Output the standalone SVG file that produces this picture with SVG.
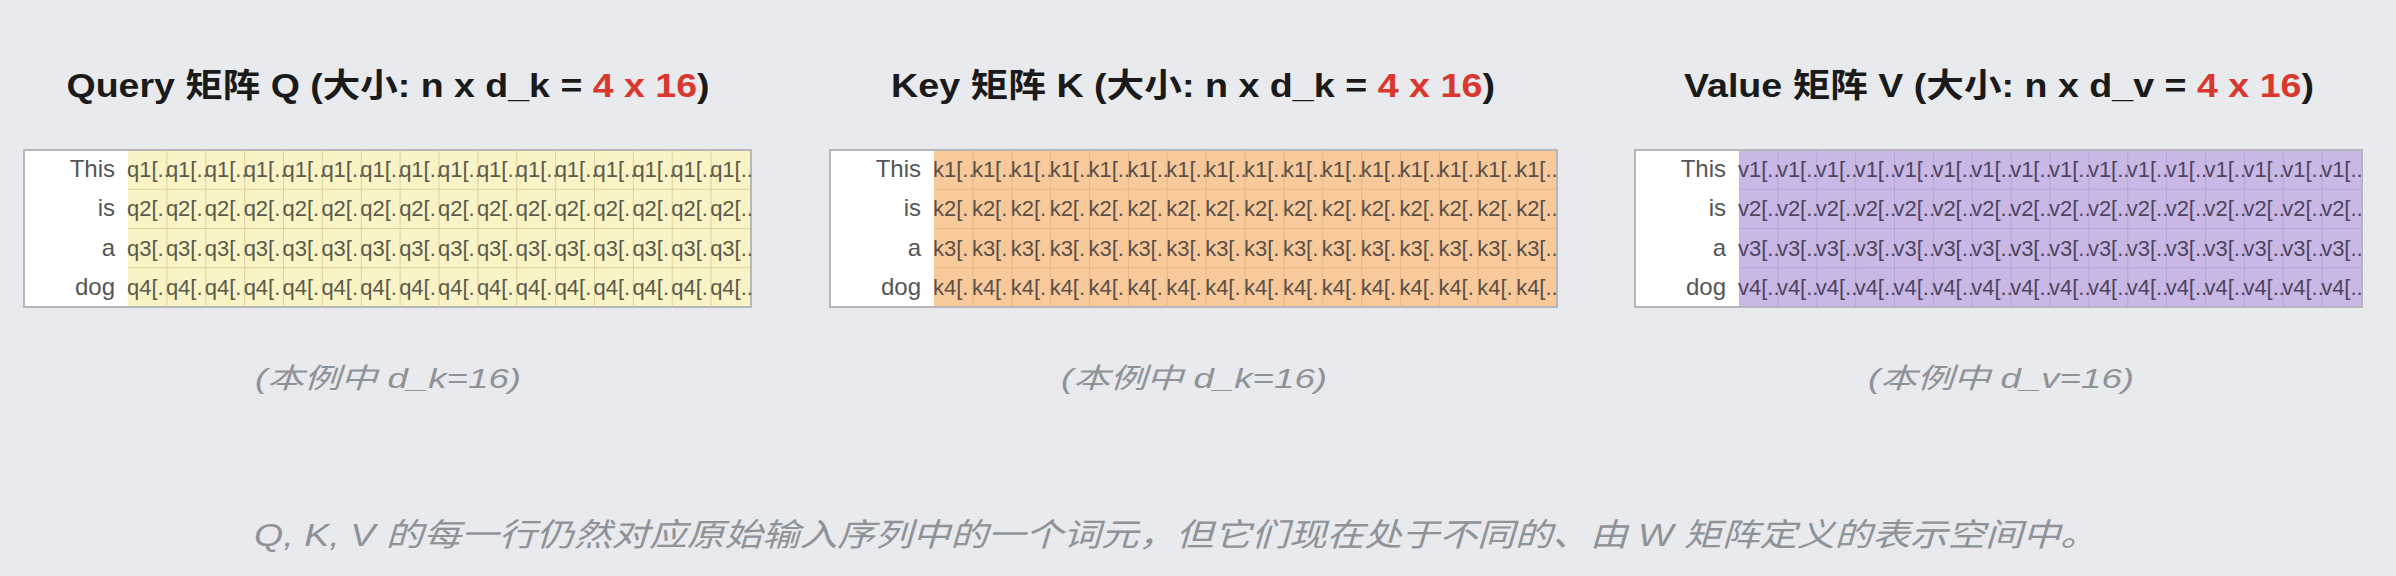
<svg xmlns="http://www.w3.org/2000/svg" width="2396" height="576" viewBox="0 0 2396 576">
<style>
.bg{fill:#e8eaed}
.title{font-family:"Liberation Sans","Noto Sans CJK SC",sans-serif;font-weight:bold;font-size:33px;fill:#1a1a1a}
.red{fill:#d9382f}
.sub{font-family:"Liberation Sans","Noto Sans CJK SC",sans-serif;font-style:italic;font-size:28px;fill:#8f9297}
.note{font-family:"Liberation Sans","Noto Sans CJK SC",sans-serif;font-style:italic;font-size:32px;fill:#8f9297}
.frame{fill:#ffffff;stroke:#b5b7ba;stroke-width:2}
.lbl{font-family:"Liberation Sans",sans-serif;font-size:24px;fill:#555555;text-anchor:end}
.cell{font-family:"Liberation Sans Narrow","Liberation Sans",sans-serif;font-size:22px}
.q .data{fill:#f9f3c5}.q .grid{stroke:#ddd39c}.q .cell{fill:#5b5a4c}
.k .data{fill:#f8c99b}.k .grid{stroke:#e6b684}.k .cell{fill:#5a5048}
.v .data{fill:#c9b8e5}.v .grid{stroke:#b7a4d8}.v .cell{fill:#4d4560}
.grid{stroke-width:1;fill:none}
</style>
<defs>
<path id="gridlines" d="M142.875 0V157M181.75 0V157M220.625 0V157M259.5 0V157M298.375 0V157M337.25 0V157M376.125 0V157M415 0V157M453.875 0V157M492.75 0V157M531.625 0V157M570.5 0V157M609.375 0V157M648.25 0V157M687.125 0V157M104 39.25H726M104 78.5H726M104 117.75H726"/>
</defs>
<rect class="bg" x="0" y="0" width="2396" height="576"/>

<g id="matrix-q" class="q">
<text class="title" x="388" y="97" text-anchor="middle" textLength="643" lengthAdjust="spacingAndGlyphs">Query 矩阵 Q (大小: n x d_k = <tspan class="red">4 x 16</tspan>)</text>
<g transform="translate(24,150)">
<rect class="frame" x="0" y="0" width="727" height="157"/>
<rect class="data" x="104" y="1" width="622" height="155"/>
<use href="#gridlines" class="grid"/>
<text class="lbl" x="91" y="27">This</text>
<text class="lbl" x="91" y="66">is</text>
<text class="lbl" x="91" y="105.5">a</text>
<text class="lbl" x="91" y="145">dog</text>
<text class="cell" y="27"><tspan x="103">q1[..</tspan><tspan x="141.875">q1[..</tspan><tspan x="180.75">q1[..</tspan><tspan x="219.625">q1[..</tspan><tspan x="258.5">q1[..</tspan><tspan x="297.375">q1[..</tspan><tspan x="336.25">q1[..</tspan><tspan x="375.125">q1[..</tspan><tspan x="414">q1[..</tspan><tspan x="452.875">q1[..</tspan><tspan x="491.75">q1[..</tspan><tspan x="530.625">q1[..</tspan><tspan x="569.5">q1[..</tspan><tspan x="608.375">q1[..</tspan><tspan x="647.25">q1[..</tspan><tspan x="686.125">q1[..</tspan></text>
<text class="cell" y="66"><tspan x="103">q2[.</tspan><tspan x="141.875">q2[.</tspan><tspan x="180.75">q2[.</tspan><tspan x="219.625">q2[.</tspan><tspan x="258.5">q2[.</tspan><tspan x="297.375">q2[.</tspan><tspan x="336.25">q2[.</tspan><tspan x="375.125">q2[.</tspan><tspan x="414">q2[.</tspan><tspan x="452.875">q2[.</tspan><tspan x="491.75">q2[.</tspan><tspan x="530.625">q2[.</tspan><tspan x="569.5">q2[.</tspan><tspan x="608.375">q2[.</tspan><tspan x="647.25">q2[.</tspan><tspan x="686.125">q2[..</tspan></text>
<text class="cell" y="105.5"><tspan x="103">q3[.</tspan><tspan x="141.875">q3[.</tspan><tspan x="180.75">q3[.</tspan><tspan x="219.625">q3[.</tspan><tspan x="258.5">q3[.</tspan><tspan x="297.375">q3[.</tspan><tspan x="336.25">q3[.</tspan><tspan x="375.125">q3[.</tspan><tspan x="414">q3[.</tspan><tspan x="452.875">q3[.</tspan><tspan x="491.75">q3[.</tspan><tspan x="530.625">q3[.</tspan><tspan x="569.5">q3[.</tspan><tspan x="608.375">q3[.</tspan><tspan x="647.25">q3[.</tspan><tspan x="686.125">q3[..</tspan></text>
<text class="cell" y="145"><tspan x="103">q4[.</tspan><tspan x="141.875">q4[.</tspan><tspan x="180.75">q4[.</tspan><tspan x="219.625">q4[.</tspan><tspan x="258.5">q4[.</tspan><tspan x="297.375">q4[.</tspan><tspan x="336.25">q4[.</tspan><tspan x="375.125">q4[.</tspan><tspan x="414">q4[.</tspan><tspan x="452.875">q4[.</tspan><tspan x="491.75">q4[.</tspan><tspan x="530.625">q4[.</tspan><tspan x="569.5">q4[.</tspan><tspan x="608.375">q4[.</tspan><tspan x="647.25">q4[.</tspan><tspan x="686.125">q4[..</tspan></text>
</g>
<text class="sub" x="388" y="388" text-anchor="middle" textLength="266" lengthAdjust="spacingAndGlyphs">(本例中 d_k=16)</text>
</g>

<g id="matrix-k" class="k">
<text class="title" x="1193" y="97" text-anchor="middle" textLength="604" lengthAdjust="spacingAndGlyphs">Key 矩阵 K (大小: n x d_k = <tspan class="red">4 x 16</tspan>)</text>
<g transform="translate(830,150)">
<rect class="frame" x="0" y="0" width="727" height="157"/>
<rect class="data" x="104" y="1" width="622" height="155"/>
<use href="#gridlines" class="grid"/>
<text class="lbl" x="91" y="27">This</text>
<text class="lbl" x="91" y="66">is</text>
<text class="lbl" x="91" y="105.5">a</text>
<text class="lbl" x="91" y="145">dog</text>
<text class="cell" y="27"><tspan x="103">k1[..</tspan><tspan x="141.875">k1[..</tspan><tspan x="180.75">k1[..</tspan><tspan x="219.625">k1[..</tspan><tspan x="258.5">k1[..</tspan><tspan x="297.375">k1[..</tspan><tspan x="336.25">k1[..</tspan><tspan x="375.125">k1[..</tspan><tspan x="414">k1[..</tspan><tspan x="452.875">k1[..</tspan><tspan x="491.75">k1[..</tspan><tspan x="530.625">k1[..</tspan><tspan x="569.5">k1[..</tspan><tspan x="608.375">k1[..</tspan><tspan x="647.25">k1[..</tspan><tspan x="686.125">k1[..</tspan></text>
<text class="cell" y="66"><tspan x="103">k2[.</tspan><tspan x="141.875">k2[.</tspan><tspan x="180.75">k2[.</tspan><tspan x="219.625">k2[.</tspan><tspan x="258.5">k2[.</tspan><tspan x="297.375">k2[.</tspan><tspan x="336.25">k2[.</tspan><tspan x="375.125">k2[.</tspan><tspan x="414">k2[.</tspan><tspan x="452.875">k2[.</tspan><tspan x="491.75">k2[.</tspan><tspan x="530.625">k2[.</tspan><tspan x="569.5">k2[.</tspan><tspan x="608.375">k2[.</tspan><tspan x="647.25">k2[.</tspan><tspan x="686.125">k2[..</tspan></text>
<text class="cell" y="105.5"><tspan x="103">k3[.</tspan><tspan x="141.875">k3[.</tspan><tspan x="180.75">k3[.</tspan><tspan x="219.625">k3[.</tspan><tspan x="258.5">k3[.</tspan><tspan x="297.375">k3[.</tspan><tspan x="336.25">k3[.</tspan><tspan x="375.125">k3[.</tspan><tspan x="414">k3[.</tspan><tspan x="452.875">k3[.</tspan><tspan x="491.75">k3[.</tspan><tspan x="530.625">k3[.</tspan><tspan x="569.5">k3[.</tspan><tspan x="608.375">k3[.</tspan><tspan x="647.25">k3[.</tspan><tspan x="686.125">k3[..</tspan></text>
<text class="cell" y="145"><tspan x="103">k4[.</tspan><tspan x="141.875">k4[.</tspan><tspan x="180.75">k4[.</tspan><tspan x="219.625">k4[.</tspan><tspan x="258.5">k4[.</tspan><tspan x="297.375">k4[.</tspan><tspan x="336.25">k4[.</tspan><tspan x="375.125">k4[.</tspan><tspan x="414">k4[.</tspan><tspan x="452.875">k4[.</tspan><tspan x="491.75">k4[.</tspan><tspan x="530.625">k4[.</tspan><tspan x="569.5">k4[.</tspan><tspan x="608.375">k4[.</tspan><tspan x="647.25">k4[.</tspan><tspan x="686.125">k4[..</tspan></text>
</g>
<text class="sub" x="1194" y="388" text-anchor="middle" textLength="266" lengthAdjust="spacingAndGlyphs">(本例中 d_k=16)</text>
</g>

<g id="matrix-v" class="v">
<text class="title" x="1999" y="97" text-anchor="middle" textLength="630" lengthAdjust="spacingAndGlyphs">Value 矩阵 V (大小: n x d_v = <tspan class="red">4 x 16</tspan>)</text>
<g transform="translate(1635,150)">
<rect class="frame" x="0" y="0" width="727" height="157"/>
<rect class="data" x="104" y="1" width="622" height="155"/>
<use href="#gridlines" class="grid"/>
<text class="lbl" x="91" y="27">This</text>
<text class="lbl" x="91" y="66">is</text>
<text class="lbl" x="91" y="105.5">a</text>
<text class="lbl" x="91" y="145">dog</text>
<text class="cell" y="27"><tspan x="103">v1[..</tspan><tspan x="141.875">v1[..</tspan><tspan x="180.75">v1[..</tspan><tspan x="219.625">v1[..</tspan><tspan x="258.5">v1[..</tspan><tspan x="297.375">v1[..</tspan><tspan x="336.25">v1[..</tspan><tspan x="375.125">v1[..</tspan><tspan x="414">v1[..</tspan><tspan x="452.875">v1[..</tspan><tspan x="491.75">v1[..</tspan><tspan x="530.625">v1[..</tspan><tspan x="569.5">v1[..</tspan><tspan x="608.375">v1[..</tspan><tspan x="647.25">v1[..</tspan><tspan x="686.125">v1[..</tspan></text>
<text class="cell" y="66"><tspan x="103">v2[..</tspan><tspan x="141.875">v2[..</tspan><tspan x="180.75">v2[..</tspan><tspan x="219.625">v2[..</tspan><tspan x="258.5">v2[..</tspan><tspan x="297.375">v2[..</tspan><tspan x="336.25">v2[..</tspan><tspan x="375.125">v2[..</tspan><tspan x="414">v2[..</tspan><tspan x="452.875">v2[..</tspan><tspan x="491.75">v2[..</tspan><tspan x="530.625">v2[..</tspan><tspan x="569.5">v2[..</tspan><tspan x="608.375">v2[..</tspan><tspan x="647.25">v2[..</tspan><tspan x="686.125">v2[..</tspan></text>
<text class="cell" y="105.5"><tspan x="103">v3[..</tspan><tspan x="141.875">v3[..</tspan><tspan x="180.75">v3[..</tspan><tspan x="219.625">v3[..</tspan><tspan x="258.5">v3[..</tspan><tspan x="297.375">v3[..</tspan><tspan x="336.25">v3[..</tspan><tspan x="375.125">v3[..</tspan><tspan x="414">v3[..</tspan><tspan x="452.875">v3[..</tspan><tspan x="491.75">v3[..</tspan><tspan x="530.625">v3[..</tspan><tspan x="569.5">v3[..</tspan><tspan x="608.375">v3[..</tspan><tspan x="647.25">v3[..</tspan><tspan x="686.125">v3[..</tspan></text>
<text class="cell" y="145"><tspan x="103">v4[..</tspan><tspan x="141.875">v4[..</tspan><tspan x="180.75">v4[..</tspan><tspan x="219.625">v4[..</tspan><tspan x="258.5">v4[..</tspan><tspan x="297.375">v4[..</tspan><tspan x="336.25">v4[..</tspan><tspan x="375.125">v4[..</tspan><tspan x="414">v4[..</tspan><tspan x="452.875">v4[..</tspan><tspan x="491.75">v4[..</tspan><tspan x="530.625">v4[..</tspan><tspan x="569.5">v4[..</tspan><tspan x="608.375">v4[..</tspan><tspan x="647.25">v4[..</tspan><tspan x="686.125">v4[..</tspan></text>
</g>
<text class="sub" x="2001" y="388" text-anchor="middle" textLength="266" lengthAdjust="spacingAndGlyphs">(本例中 d_v=16)</text>
</g>

<g id="note">
<text class="note" x="1176" y="546" text-anchor="middle" textLength="1844" lengthAdjust="spacingAndGlyphs">Q, K, V 的每一行仍然对应原始输入序列中的一个词元，但它们现在处于不同的、由 W 矩阵定义的表示空间中。</text>
</g>

<g id="connectors"/>
</svg>
